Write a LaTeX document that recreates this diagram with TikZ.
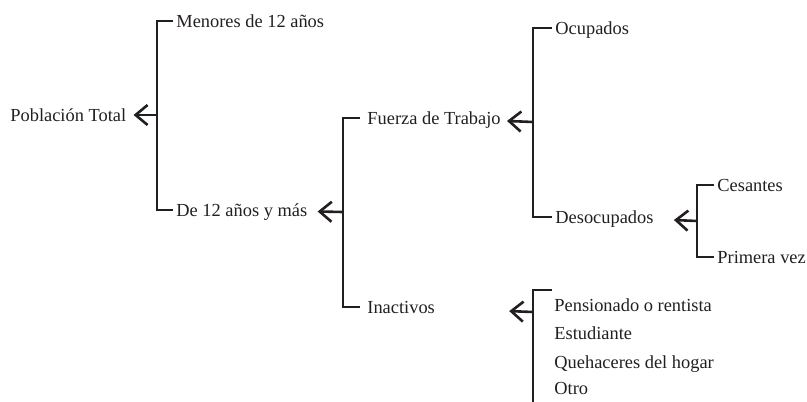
\documentclass[tikz,border=0pt]{standalone}
\usepackage{fontspec}
\setmainfont{Liberation Serif}
\usepackage{xcolor}
\usetikzlibrary{arrows.meta,positioning}
\definecolor{ink}{HTML}{231F20}

\begin{document}
\begin{tikzpicture}[
    x=0.5pt, y=-0.5pt,
    label/.style={anchor=west, inner sep=1.5pt, text=ink, font=\fontsize{9.2pt}{14pt}\selectfont, text height=0.66em, text depth=0pt},
    bracket/.style={draw=ink, line width=1.3pt},
    arrow/.style={draw=ink, line width=1.3pt, -{Straight Barb[length=6pt, width=10pt]}}
]
    \useasboundingbox (0,0) rectangle (807,401);

    % labels
    \node[label] (pobl) at (7,115) {Población Total};
    \node[label] (menores) at (173,21) {Menores de 12 años};
    \node[label] (de12) at (173,210) {De 12 años y más};
    \node[label] (fuerza) at (364,118) {Fuerza de Trabajo};
    \node[label] (inact) at (364,307) {Inactivos};
    \node[label] (ocup) at (552,28) {Ocupados};
    \node[label] (desoc) at (552,217) {Desocupados};
    \node[label] (cesan) at (714,185) {Cesantes};
    \node[label] (prim) at (714,257) {Primera vez};
    \foreach \name/\txt/\y in {item1/Pensionado o rentista/305, item2/Estudiante/333, item3/Quehaceres del hogar/362, item4/Otro/388}
        \node[label] (\name) at (551,\y) {\txt};

    % spines
    \coordinate (s1) at (157,115);
    \coordinate (s2) at (343,212);
    \coordinate (s3) at (533,122);
    \coordinate (s4) at (697,221);
    \coordinate (s5) at (533,312);
    \coordinate (s5top) at (552,290);
    \coordinate (s5end) at (533,403);

    % brackets
    \draw[bracket] (menores.west) -| (s1) |- (de12.west);
    \draw[bracket, shorten <=2pt, shorten >=2pt] (fuerza.west) -| (s2) |- (inact.west);
    \draw[bracket] (ocup.west) -| (s3) |- (desoc.west);
    \draw[bracket] (cesan.west) -| (s4) |- (prim.west);
    \draw[bracket] (s5top) -| (s5end);

    % arrows
    \draw[arrow, shorten >=2pt] (s1) -- (pobl);
    \draw[arrow, shorten >=3.5pt] (s2) -- (de12);
    \draw[arrow, shorten >=1.5pt] (s3) -- (fuerza);
    \draw[arrow, shorten >=8.5pt] (s4) -- (desoc);
    \draw[arrow, shorten >=35.5pt] (s5) -- (inact);
\end{tikzpicture}
\end{document}
